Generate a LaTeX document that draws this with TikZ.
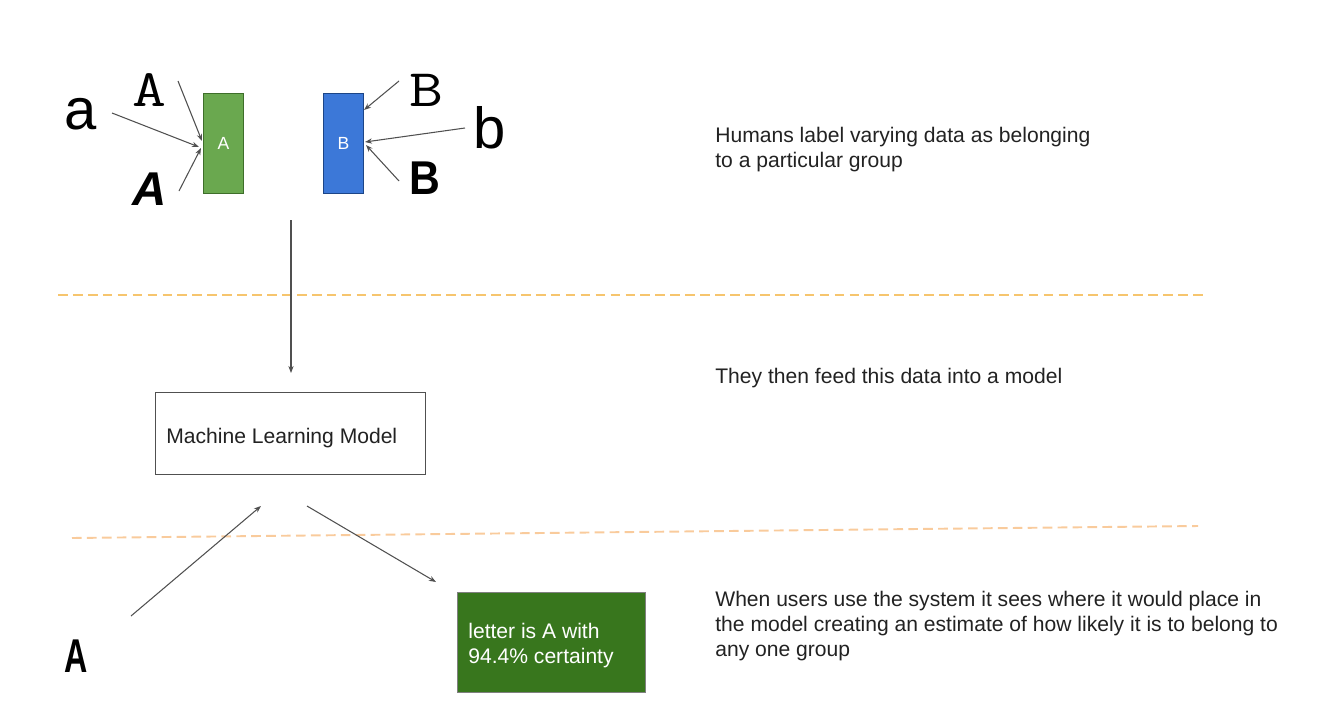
\documentclass[tikz,border=0pt]{standalone}
\usepackage{fontspec}
\setmainfont{Liberation Sans}
\usetikzlibrary{arrows.meta}
\definecolor{txt}{HTML}{222222}
\definecolor{arrowc}{HTML}{505050}
\definecolor{greenA}{HTML}{6AA84F}
\definecolor{greenAedge}{HTML}{3E6E2A}
\definecolor{blueB}{HTML}{3C78D8}
\definecolor{blueBedge}{HTML}{1C4587}
\definecolor{dkgreen}{HTML}{38761D}
\definecolor{dashA}{HTML}{F6C56E}
\definecolor{dashB}{HTML}{F9CB9C}
\tikzset{
  conn/.style={draw=arrowc, line width=0.6pt, -{Stealth[length=4pt,width=3pt]}},
  label/.style={inner sep=0pt, text=txt, font=\fontsize{12}{14.17}\selectfont},
  note/.style={label, align=left, anchor=base west},
  bigsans/.style={inner sep=0pt, text=black, font=\fontsize{33}{36}\selectfont},
  bigmono/.style={inner sep=0pt, text=black, font=\ttfamily\fontsize{30}{34}\selectfont, xscale=1.25},
  hand/.style={inner sep=0pt, text=black, font=\fontsize{27}{30}\selectfont},
  sep/.style={line width=1.1pt, dash pattern=on 5.5pt off 3pt},
}
\begin{document}
\begin{tikzpicture}[x=0.02cm, y=-0.02cm]
\useasboundingbox (0,0) rectangle (1334,720);
% group rectangles
\node[draw=greenAedge, fill=greenA, line width=0.6pt, inner sep=0pt, anchor=north west,
      minimum width=0.8cm, minimum height=2cm, text=white, font=\fontsize{10}{12}\selectfont] (ga) at (203,93) {A};
\node[draw=blueBedge, fill=blueB, line width=0.6pt, inner sep=0pt, anchor=north west,
      minimum width=0.8cm, minimum height=2cm, text=white, font=\fontsize{10}{12}\selectfont] (bb) at (323,93) {B};
% letters
\node[bigsans] (la) at (81,114) {a};
\node[bigmono] (lA1) at (149,90) {A};
\node[hand, font=\bfseries\itshape\fontsize{27}{30}\selectfont] (lA2) at (150,189) {A};
\node[bigmono] (lB1) at (426,90) {B};
\node[bigsans] (lb) at (490,128) {b};
\node[hand, font=\bfseries\fontsize{27}{30}\selectfont, xscale=0.9] (lB2) at (425,178) {B};
% arrow endpoints
\coordinate (a0) at (112,113); \coordinate (a1) at (199,147);
\coordinate (A10) at (178,81); \coordinate (A11) at (202,141);
\coordinate (A20) at (179,191); \coordinate (A21) at (201,148);
\coordinate (B10) at (399,81); \coordinate (B11) at (364,110);
\coordinate (b0) at (465,128); \coordinate (b1) at (365,142);
\coordinate (B20) at (399,181); \coordinate (B21) at (366,145);
\draw[conn] (a0) -- (a1);
\draw[conn] (A10) -- (A11);
\draw[conn] (A20) -- (A21);
\draw[conn] (B10) -- (B11);
\draw[conn] (b0) -- (b1);
\draw[conn] (B20) -- (B21);
% separators
\coordinate (s1a) at (58,295); \coordinate (s1b) at (1204,295);
\coordinate (s2a) at (72,538); \coordinate (s2b) at (1198,526);
\draw[sep, draw=dashA] (s1a) -- (s1b);
\draw[sep, draw=dashB] (s2a) -- (s2b);
% model
\node[draw=arrowc, line width=0.8pt, fill=white, anchor=north west, minimum width=5.4cm, minimum height=1.64cm, inner sep=0pt] (ml) at (155,392) {};
\node[label, anchor=base west] (mltext) at (166,443) {Machine Learning Model};
\coordinate (v0) at (291,220); \coordinate (v1) at (291,373);
\draw[conn] (v0) -- (v1);
% output
\node[draw=gray, fill=dkgreen, line width=0.6pt, anchor=north west, minimum width=3.76cm, minimum height=2cm, inner sep=0pt] (out) at (457,592) {};
\node[note, text=white] (outtext) at (468,663) {letter is A with\\94.4\% certainty};
\node[inner sep=0pt, text=black, font=\bfseries\fontsize{27}{29}\selectfont, xscale=0.68] (inA) at (76,656) {A};
\coordinate (u0) at (131,616); \coordinate (u1) at (261,506);
\coordinate (d0) at (307,506); \coordinate (d1) at (436,582);
\draw[conn] (u0) -- (u1);
\draw[conn] (d0) -- (d1);
% notes
\node[note] (n1) at (715,167) {Humans label varying data as belonging\\to a particular group};
\node[note] (n2) at (715,383) {They then feed this data into a model};
\node[note] (n3) at (715,656) {When users use the system it sees where it would place in\\the model creating an estimate of how likely it is to belong to\\any one group};
\end{tikzpicture}
\end{document}
